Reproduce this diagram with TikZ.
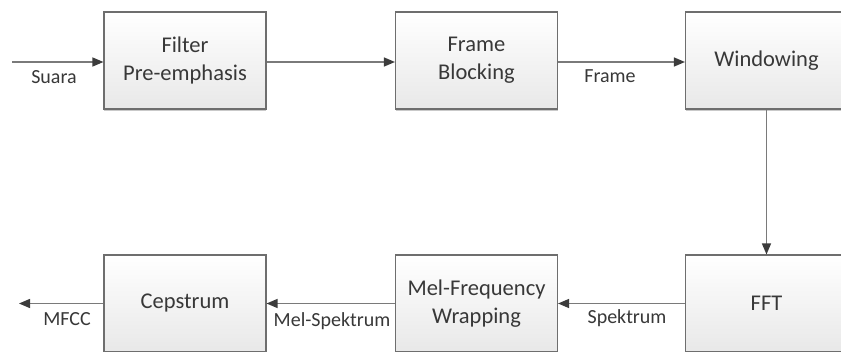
\documentclass[tikz,border=0pt]{standalone}
\usepackage{fontspec}
\setmainfont{Carlito}
\usetikzlibrary{arrows.meta,shadows}
\definecolor{txt}{HTML}{383838}
\definecolor{edge}{HTML}{6E6E6E}
\definecolor{wire}{HTML}{7A7A7A}
\definecolor{tip}{HTML}{3C3C3C}
\tikzset{
  block/.style={draw=edge, line width=1.1pt, top color=white, bottom color=black!9,
    minimum width=162pt, minimum height=97pt, inner sep=0pt, align=center,
    text=txt, font=\fontsize{22.5}{28}\selectfont,
    drop shadow={shadow xshift=0pt, shadow yshift=-1.6pt, opacity=0.35, fill=black!60}},
  flow/.style={draw=wire, line width=1.3pt,
    -{Triangle[length=11pt,width=9pt,color=tip,fill=tip]}},
  tag/.style={text=txt, font=\fontsize{20}{24}\selectfont, inner sep=0pt}
}
\begin{document}
\begin{tikzpicture}[x=1pt,y=-1pt]
\useasboundingbox (0,0) rectangle (841,352);
\fill[white] (0,0) rectangle (841,352);
\begin{scope}
\clip (0,0) rectangle (841,352);
% top row
\node[block] (pre) at (185,60.5) {Filter\\Pre-emphasis};
\node[block] (frm) at (476.5,60.5) {Frame\\Blocking};
\node[block] (win) at (766.5,60.5) {Windowing};
% bottom row
\node[block] (fft) at (766.5,303.5) {FFT};
\node[block] (mel) at (476.5,303.5) {Mel-Frequency\\Wrapping};
\node[block] (cep) at (185,303.5) {Cepstrum};
\coordinate (in) at (12,62);
\coordinate (out) at (19,303.5);
% connectors
\draw[flow] (in) -- (in -| pre.west);
\draw[flow] (pre.east |- 0,62) -- (frm.west |- 0,62);
\draw[flow] (frm.east |- 0,62) -- (win.west |- 0,62);
\draw[flow] (win.south) -- (fft.north);
\draw[flow] (fft.west) -- (mel.east);
\draw[flow] (mel.west) -- (cep.east);
\draw[flow] (cep.west) -- (out);
\end{scope}
% signal labels
\node[tag] (lsuara) at (54,77) {Suara};
\node[tag] (lframe) at (610,76) {Frame};
\node[tag] (lspek) at (627,318) {Spektrum};
\node[tag] (lmel) at (332,321) {Mel-Spektrum};
\node[tag] (lmfcc) at (67,319) {MFCC};
\end{tikzpicture}
\end{document}
